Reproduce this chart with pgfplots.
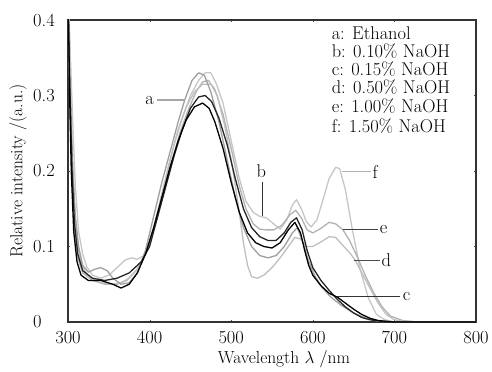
\documentclass[border=0pt]{standalone}
\usepackage{pgfplots}
\pgfplotsset{compat=1.18}
\begin{document}
\begin{tikzpicture}
\begin{axis}[
  scale only axis, width=408bp, height=302bp,
  xmin=300, xmax=800, ymin=0, ymax=0.4,
  xtick={300,400,500,600,700,800},
  ytick={0,0.1,0.2,0.3,0.4},
  axis line style={line width=1.1pt, black!80},
  major tick length=2pt, tick align=inside,
  tick style={black!70},
  /pgf/number format/assume math mode=true,
  ticklabel style={font=\fontsize{18.5}{20}\selectfont, inner sep=0pt},
  xticklabel style={yshift=-9bp},
  yticklabel style={anchor=west, xshift=-35bp},
  xlabel={Wavelength $\lambda$ /nm},
  ylabel={Relative intensity /(a.u.)},
  label style={font=\fontsize{17.5}{19}\selectfont},
  xlabel style={yshift=-3bp, xshift=12bp},
  ylabel style={yshift=3bp},
  clip=true,
  every axis plot/.append style={line width=1.3pt, line join=round},
]
% f
\addplot[gray!45] coordinates {(300,0.45)(303,0.35)(306,0.26)(309,0.18)(313,0.12)(318,0.09)(323,0.073)(330,0.062)(340,0.058)(350,0.062)(360,0.072)(370,0.082)(378,0.085)(385,0.083)(393,0.088)(400,0.105)(410,0.145)(420,0.19)(430,0.235)(440,0.27)(450,0.3)(460,0.32)(468,0.33)(475,0.33)(482,0.315)(490,0.29)(500,0.24)(510,0.19)(518,0.16)(527,0.145)(535,0.14)(543,0.138)(552,0.13)(560,0.123)(568,0.135)(575,0.155)(580,0.162)(586,0.15)(592,0.133)(598,0.126)(605,0.135)(612,0.16)(620,0.19)(628,0.205)(633,0.203)(640,0.175)(648,0.125)(658,0.07)(668,0.032)(678,0.01)(688,0.003)(700,0)(800,0)};
% e
\addplot[gray!60] coordinates {(300,0.4)(302,0.31)(305,0.19)(308,0.12)(312,0.085)(318,0.065)(330,0.055)(345,0.05)(360,0.05)(372,0.055)(385,0.07)(397,0.095)(407,0.13)(417,0.17)(427,0.21)(437,0.25)(447,0.28)(457,0.305)(465,0.318)(472,0.32)(480,0.308)(490,0.275)(500,0.23)(510,0.18)(518,0.15)(527,0.13)(535,0.123)(543,0.122)(552,0.122)(562,0.128)(572,0.142)(579,0.148)(586,0.138)(593,0.122)(600,0.118)(610,0.124)(620,0.132)(628,0.13)(637,0.122)(645,0.108)(655,0.085)(665,0.06)(675,0.038)(685,0.02)(695,0.008)(710,0.002)(730,0)(800,0)};
% d
\addplot[gray!50] coordinates {(300,0.44)(302,0.33)(305,0.22)(308,0.15)(312,0.1)(317,0.075)(325,0.06)(340,0.052)(355,0.05)(365,0.052)(375,0.058)(385,0.07)(395,0.09)(405,0.125)(415,0.17)(425,0.215)(435,0.255)(445,0.285)(455,0.305)(465,0.315)(475,0.315)(483,0.3)(492,0.26)(500,0.215)(508,0.16)(515,0.105)(520,0.075)(525,0.06)(532,0.058)(540,0.062)(550,0.072)(560,0.085)(570,0.1)(578,0.112)(585,0.11)(592,0.1)(600,0.1)(610,0.106)(620,0.113)(628,0.112)(638,0.1)(645,0.092)(652,0.082)(660,0.065)(670,0.045)(680,0.025)(690,0.01)(700,0.003)(715,0)(800,0)};
% a
\addplot[gray!75] coordinates {(300,0.40)(303,0.30)(306,0.2)(309,0.14)(313,0.1)(318,0.075)(325,0.066)(333,0.07)(340,0.072)(348,0.068)(355,0.058)(365,0.05)(375,0.052)(385,0.065)(395,0.095)(405,0.14)(415,0.185)(425,0.225)(435,0.265)(443,0.294)(452,0.32)(460,0.33)(467,0.327)(475,0.305)(485,0.265)(495,0.215)(505,0.165)(515,0.125)(525,0.1)(535,0.088)(545,0.085)(555,0.088)(565,0.1)(575,0.118)(581,0.125)(588,0.105)(595,0.08)(603,0.06)(612,0.045)(622,0.033)(635,0.022)(650,0.012)(665,0.005)(680,0.001)(700,0)(800,0)};
% b
\addplot[black!85] coordinates {(300,0.42)(302,0.32)(305,0.2)(308,0.13)(312,0.09)(318,0.068)(330,0.058)(345,0.055)(360,0.058)(375,0.065)(390,0.08)(400,0.1)(410,0.14)(420,0.18)(430,0.22)(440,0.255)(450,0.283)(460,0.298)(468,0.3)(476,0.292)(485,0.27)(495,0.235)(505,0.19)(515,0.15)(525,0.125)(535,0.113)(545,0.108)(555,0.108)(565,0.118)(573,0.132)(580,0.138)(587,0.122)(593,0.095)(600,0.072)(610,0.055)(620,0.042)(630,0.03)(640,0.02)(650,0.012)(660,0.006)(670,0.003)(690,0)(800,0)};
% c
\addplot[black] coordinates {(300,0.45)(302,0.30)(304,0.2)(307,0.12)(311,0.08)(316,0.062)(325,0.055)(340,0.055)(355,0.05)(365,0.045)(375,0.05)(385,0.065)(395,0.09)(405,0.125)(415,0.165)(425,0.205)(435,0.24)(445,0.268)(455,0.285)(465,0.29)(473,0.283)(480,0.265)(490,0.23)(500,0.185)(510,0.145)(520,0.118)(530,0.105)(540,0.1)(550,0.098)(560,0.105)(570,0.122)(578,0.132)(585,0.118)(590,0.095)(595,0.075)(600,0.062)(610,0.048)(620,0.038)(630,0.033)(640,0.025)(650,0.017)(660,0.01)(670,0.005)(680,0.002)(700,0)(800,0)};
% annotations
\begin{scope}[every node/.style={font=\fontsize{18.5}{20}\selectfont, inner sep=0pt}]
\node[anchor=west] at (axis cs:623,0.383) {a: Ethanol};
\node[anchor=west] at (axis cs:623,0.359) {b: 0.10\% NaOH};
\node[anchor=west] at (axis cs:623,0.335) {c: 0.15\% NaOH};
\node[anchor=west] at (axis cs:623,0.311) {d: 0.50\% NaOH};
\node[anchor=west] at (axis cs:623,0.286) {e: 1.00\% NaOH};
\node[anchor=west] at (axis cs:623,0.260) {f: 1.50\% NaOH};
\node at (axis cs:400,0.294) {a};
\draw[gray!70, line width=1.1pt] (axis cs:409,0.294) -- (axis cs:443,0.294);
\node at (axis cs:537,0.2) {b};
\draw[black!80, line width=1.1pt] (axis cs:538,0.186) -- (axis cs:538,0.14);
\node[anchor=west] at (axis cs:673,0.199) {f};
\draw[gray!60, line width=1.1pt] (axis cs:636,0.199) -- (axis cs:671,0.199);
\node[anchor=west] at (axis cs:682,0.122) {e};
\draw[black!75, line width=1.1pt] (axis cs:637,0.122) -- (axis cs:680,0.122);
\node[anchor=west] at (axis cs:684,0.082) {d};
\draw[black!70, line width=1.1pt] (axis cs:650,0.082) -- (axis cs:682,0.082);
\node[anchor=west] at (axis cs:710,0.034) {c};
\draw[black!80, line width=1.1pt] (axis cs:630,0.034) -- (axis cs:707,0.034);
\end{scope}
\end{axis}
\path[use as bounding box] ([xshift=-68bp,yshift=-45bp]current axis.south west) rectangle ([xshift=16bp,yshift=20bp]current axis.north east);
\end{tikzpicture}
\end{document}
